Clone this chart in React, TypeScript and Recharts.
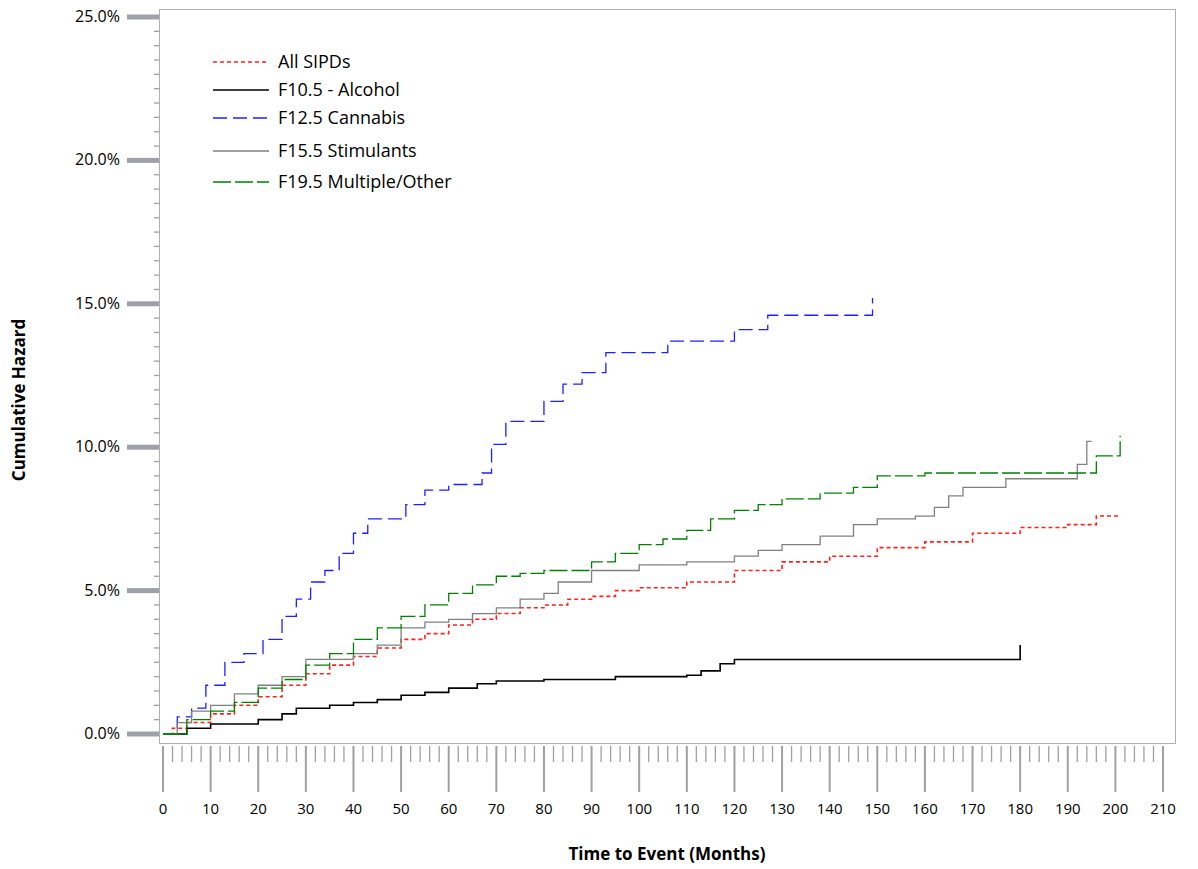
import React from 'react'
import { LineChart, Line, XAxis, YAxis } from 'recharts'

// cumulative hazard (%) steps: [month, value]
const allSipds = [[0,0],[2,0.2],[5,0.4],[10,0.7],[15,1.0],[20,1.3],[25,1.7],[30,2.1],[35,2.4],[40,2.7],[45,3.0],[50,3.3],[55,3.5],[60,3.8],[65,4.0],[70,4.2],[75,4.4],[80,4.5],[85,4.7],[90,4.8],[95,5.0],[100,5.1],[110,5.3],[120,5.7],[130,6.0],[140,6.2],[150,6.5],[160,6.7],[170,7.0],[180,7.2],[190,7.3],[196,7.6],[201,7.6]]
const alcohol = [[0,0],[5,0.2],[10,0.35],[20,0.5],[25,0.7],[28,0.9],[35,1.0],[40,1.1],[45,1.2],[50,1.35],[55,1.45],[60,1.6],[66,1.75],[70,1.85],[80,1.9],[95,2.0],[110,2.05],[113,2.2],[117,2.45],[120,2.6],[180,2.6],[180,3.1]]
const cannabis = [[0,0],[3,0.6],[6,0.9],[9,1.7],[13,2.5],[17,2.8],[21,3.3],[25,4.1],[28,4.7],[31,5.3],[34,5.7],[37,6.3],[40,7.0],[43,7.5],[51,8.0],[55,8.5],[60,8.7],[67,9.1],[69,10.1],[72,10.9],[80,11.6],[84,12.2],[88,12.6],[93,13.3],[106,13.7],[120,14.1],[127,14.6],[149,14.6],[149,15.2]]
const stimulants = [[0,0],[3,0.4],[6,0.8],[10,1.0],[15,1.4],[20,1.7],[25,2.0],[30,2.6],[35,2.6],[40,2.8],[45,3.1],[50,3.7],[55,3.9],[60,4.0],[65,4.2],[70,4.4],[75,4.7],[80,4.9],[83,5.3],[90,5.7],[100,5.9],[110,6.0],[120,6.2],[125,6.4],[130,6.6],[138,6.9],[145,7.3],[150,7.5],[158,7.6],[162,7.9],[165,8.3],[168,8.6],[177,8.9],[192,9.4],[194,10.2],[195,10.2]]
const multiple = [[0,0],[5,0.5],[10,0.8],[15,1.1],[20,1.6],[25,1.9],[30,2.4],[35,2.8],[40,3.3],[45,3.7],[50,4.1],[55,4.5],[60,4.9],[65,5.2],[70,5.5],[75,5.6],[80,5.7],[90,6.0],[95,6.3],[100,6.6],[105,6.8],[110,7.1],[115,7.5],[120,7.8],[125,8.0],[130,8.2],[138,8.4],[145,8.6],[150,9.0],[160,9.1],[196,9.1],[196,9.7],[201,9.7],[201,10.4]]

const xTicks = Array.from({ length: 106 }, (_, i) => i * 2)
const yTicks = Array.from({ length: 51 }, (_, i) => i * 0.5)

const series = [
  { name: 'All SIPDs', data: allSipds, color: '#ff2020', dash: '4 3', width: 1.6 },
  { name: 'F10.5 - Alcohol', data: alcohol, color: '#000000', dash: undefined, width: 1.6 },
  { name: 'F12.5 Cannabis', data: cannabis, color: '#2020ff', dash: '14 6', width: 1.3 },
  { name: 'F15.5 Stimulants', data: stimulants, color: '#808080', dash: undefined, width: 1.3 },
  { name: 'F19.5 Multiple/Other', data: multiple, color: '#008000', dash: '18 4', width: 1.3 },
]
const legendY = [62, 90, 118, 151, 182]
const font = '"Open Sans", "DejaVu Sans", sans-serif'

const XTick = (props: any) => {
  const { x, payload } = props
  const v = payload.value
  const major = v % 10 === 0
  return (
    <g>
      <line x1={x} x2={x} y1={746} y2={major ? 792 : 762} stroke="#a0a0a0" strokeWidth={major ? 2 : 1.3} />
      {major && (
        <text x={x} y={814} textAnchor="middle" fontSize={15} fontFamily={font} fill="#000">{v}</text>
      )}
    </g>
  )
}

const YTick = (props: any) => {
  const { y, payload } = props
  const v = payload.value
  const major = Math.abs(v % 5) < 1e-6
  return (
    <g>
      {major ? (
        <line x1={127} x2={159} y1={y} y2={y} stroke="#a0a0a8" strokeWidth={5} />
      ) : (
        <line x1={154} x2={159} y1={y} y2={y} stroke="#a0a0a0" strokeWidth={1.3} />
      )}
      {major && (
        <text x={120} y={y + 5} textAnchor="end" fontSize={16} fontFamily={font} fill="#000">{v.toFixed(1)}%</text>
      )}
    </g>
  )
}

export default function App() {
  return (
    <div style={{ position: 'relative', width: 1198, height: 869, marginLeft: -8, marginTop: -8, background: '#fff' }}>
      <div style={{ position: 'absolute', left: 159, top: 9, width: 1015, height: 733, border: '1px solid #b0b0b0' }} />
      <LineChart width={1198} height={869} margin={{ top: 17, right: 35, bottom: 105, left: 133 }} style={{ position: 'relative' }}>
        <XAxis dataKey="t" type="number" domain={[0, 210]} ticks={xTicks} interval={0} axisLine={false} tickLine={false} tick={<XTick />} height={30} allowDuplicatedCategory={false} />
        <YAxis type="number" domain={[0, 25]} ticks={yTicks} interval={0} axisLine={false} tickLine={false} tick={<YTick />} width={30} />
        {series.map((s) => (
          <Line
            key={s.name}
            data={s.data.map(([t, v]) => ({ t, v }))}
            dataKey="v"
            type="stepAfter"
            stroke={s.color}
            strokeWidth={s.width}
            strokeDasharray={s.dash}
            dot={false}
            isAnimationActive={false}
          />
        ))}
      </LineChart>
      {series.map((s, i) => (
        <React.Fragment key={s.name}>
          <svg style={{ position: 'absolute', left: 213, top: legendY[i] - 5 }} width={56} height={10}>
            <line x1={0} x2={56} y1={5} y2={5} stroke={s.color} strokeWidth={s.width} strokeDasharray={s.dash} />
          </svg>
          <div style={{ position: 'absolute', left: 278, top: legendY[i] - 13, fontSize: 18, fontFamily: font, color: '#000', whiteSpace: 'nowrap' }}>{s.name}</div>
        </React.Fragment>
      ))}
      <div style={{ position: 'absolute', left: 18, top: 400, transform: 'translate(-50%, -50%) rotate(-90deg)', fontSize: 17, fontWeight: 'bold', fontFamily: font, whiteSpace: 'nowrap' }}>Cumulative Hazard</div>
      <div style={{ position: 'absolute', left: 667, top: 853, transform: 'translate(-50%, -50%)', fontSize: 17, fontWeight: 'bold', fontFamily: font, whiteSpace: 'nowrap' }}>Time to Event (Months)</div>
    </div>
  )
}
